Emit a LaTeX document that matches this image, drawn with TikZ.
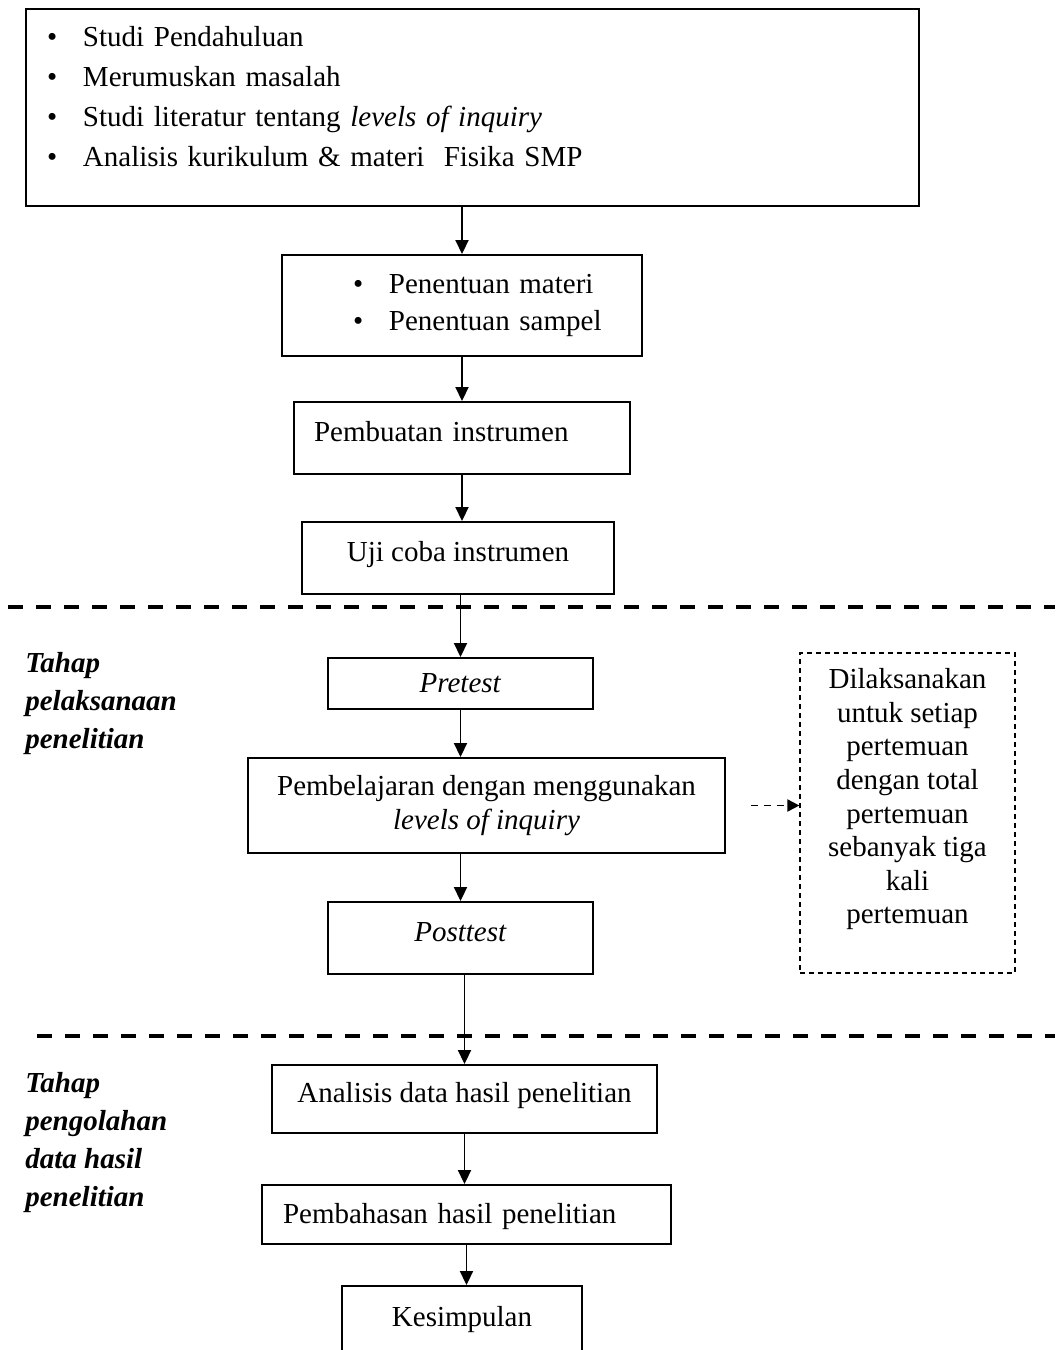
\documentclass[tikz,border=0pt]{standalone}
\usepackage{fontspec}
\setmainfont{Liberation Serif}
\usepackage{tikz}
\usetikzlibrary{arrows.meta, calc}

\newcommand{\butir}{\makebox[0.72cm][l]{\textbullet}}

\tikzset{
  kotak/.style={draw=black, line width=1.1pt, inner sep=0pt, font=\fontsize{16.5}{20}\selectfont},
  satu/.style={text height=11.9pt, text depth=7.4pt},
  catatan/.style={draw=black, line width=0.7pt, dash pattern=on 0.1cm off 0.08cm, inner sep=0pt, align=center, font=\fontsize{16.5}{19.1}\selectfont},
  tahap/.style={inner sep=0pt, align=left, font=\fontsize{16.5}{21.6}\selectfont\bfseries\itshape},
  panah/.style={line width=1.1pt, -{Triangle[length=0.28cm,width=0.26cm]}},
  panahputus/.style={line width=1.1pt, dash pattern=on 0.14cm off 0.12cm, -{Triangle[length=0.24cm,width=0.24cm]}},
  garis/.style={line width=2.3pt, dash pattern=on 0.3cm off 0.26cm}
}

\begin{document}
\begin{tikzpicture}
\useasboundingbox (0,0) rectangle (21.1,-27);

% Draw the boxes of the preparation stage
\node[kotak, align=left, minimum width=17.86cm, minimum height=3.94cm, text width=17.02cm, inner xsep=0.42cm, font=\fontsize{16.5}{22.8}\selectfont] (studi) at (9.45,-2.15)
  {\butir Studi Pendahuluan\\
   \butir Merumuskan masalah\\
   \butir Studi literatur tentang \textit{levels of inquiry}\\
   \butir Analisis kurikulum \& materi\ \ Fisika SMP\\[-0.36cm]\mbox{}};
\node[kotak, align=left, minimum width=7.2cm, minimum height=2.02cm, text width=5.8cm, inner xsep=0.7cm, font=\fontsize{16.5}{21}\selectfont] (materi) at (9.24,-6.11)
  {\hspace*{0.72cm}\butir Penentuan materi\\
   \hspace*{0.72cm}\butir Penentuan sampel};
\node[kotak, satu, align=left, minimum width=6.72cm, minimum height=1.44cm, text width=5.92cm, inner xsep=0.4cm] (buat) at (9.24,-8.76) {Pembuatan instrumen};
\node[kotak, satu, minimum width=6.24cm, minimum height=1.44cm] (uji) at (9.16,-11.16) {Uji coba instrumen};

% Draw the boxes of the implementation stage
\node[kotak, satu, text depth=1.1pt, minimum width=5.3cm, minimum height=1.02cm] (pre) at (9.21,-13.67) {\textit{Pretest}};
\node[kotak, align=center, minimum width=9.54cm, minimum height=1.9cm, font=\fontsize{16.5}{19.35}\selectfont] (belajar) at (9.73,-16.11)
  {Pembelajaran dengan menggunakan\\\textit{levels of inquiry}};
\node[kotak, satu, minimum width=5.3cm, minimum height=1.44cm] (post) at (9.21,-18.76) {\textit{Posttest}};
\node[catatan, minimum width=4.3cm, minimum height=6.4cm] (ket) at (18.15,-16.26)
  {Dilaksanakan\\untuk setiap\\pertemuan\\dengan total\\pertemuan\\sebanyak tiga\\kali\\pertemuan\\ \mbox{}};

% Draw the boxes of the data processing stage
\node[kotak, satu, minimum width=7.7cm, minimum height=1.36cm] (analisis) at (9.29,-21.98) {Analisis data hasil penelitian};
\node[kotak, satu, text depth=2.2pt, align=left, minimum width=8.18cm, minimum height=1.18cm, text width=7.34cm, inner xsep=0.42cm] (bahas) at (9.33,-24.29) {Pembahasan hasil penelitian};
\node[kotak, satu, minimum width=4.8cm, minimum height=1.48cm] (simpul) at (9.24,-26.46) {Kesimpulan};

% Stage labels
\node[tahap, anchor=north west] (tahap1) at (0.5,-13.04) {Tahap\\pelaksanaan\\penelitian};
\node[tahap, anchor=north west] (tahap2) at (0.5,-21.44) {Tahap\\pengolahan\\data hasil\\penelitian};

% Dashed separators
\draw[garis] (0.16,-12.14) -- (21.1,-12.14);
\draw[garis] (0.74,-20.72) -- (21.1,-20.72);

% Arrows
\draw[panah] (studi.south -| materi.north) -- (materi.north);
\draw[panah] (materi.south) -- (buat.north);
\draw[panah] (buat.south) -- (uji.north -| buat.south);
\draw[panah] (uji.south -| pre.north) -- (pre.north);
\draw[panah] (pre.south) -- (pre.south |- belajar.north);
\draw[panah] (belajar.south -| post.north) -- (post.north);
\draw[panah] (post.south -| analisis.north) -- (analisis.north);
\draw[panah] (analisis.south) -- (analisis.south |- bahas.north);
\draw[panah] (bahas.south) -- (bahas.south |- simpul.north);
\draw[panahputus] ([xshift=0.5cm]belajar.east) -- (belajar.east -| ket.west);

\end{tikzpicture}
\end{document}
